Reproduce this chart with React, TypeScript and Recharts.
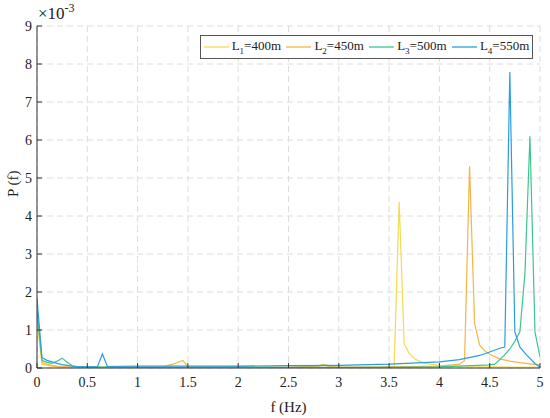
import React from 'react';
import { LineChart, Line, XAxis, YAxis, CartesianGrid, Legend } from 'recharts';

// frequency (Hz) and P(f) (x10^-3) for each cable length
const L1_F = [0, 0.05, 0.1, 0.15, 0.2, 0.3, 0.5, 0.7, 0.75, 0.8, 1.0, 1.5, 2.0, 2.5, 2.75, 2.85, 2.95, 3.0, 3.5, 3.55, 3.6, 3.65, 3.7, 3.75, 3.8, 3.85, 3.9, 4.0, 4.1, 4.2, 4.5, 5.0];
const L1_P = [1.25, 0.1, 0.07, 0.05, 0.03, 0.02, 0.02, 0.02, 0.05, 0.02, 0.02, 0.02, 0.02, 0.02, 0.03, 0.1, 0.03, 0.02, 0.02, 0.03, 4.37, 0.64, 0.38, 0.25, 0.18, 0.13, 0.1, 0.07, 0.05, 0.04, 0.03, 0.02];

const L2_F = [0, 0.05, 0.1, 0.15, 0.2, 0.3, 0.5, 1.0, 1.25, 1.35, 1.45, 1.5, 2.0, 2.5, 2.8, 2.85, 2.9, 3.0, 3.5, 4.0, 4.2, 4.25, 4.3, 4.35, 4.4, 4.45, 4.5, 4.6, 4.7, 4.8, 4.9, 5.0];
const L2_P = [1.4, 0.15, 0.1, 0.07, 0.05, 0.03, 0.02, 0.02, 0.03, 0.1, 0.2, 0.03, 0.02, 0.02, 0.05, 0.08, 0.04, 0.02, 0.03, 0.05, 0.1, 0.2, 5.31, 1.17, 0.6, 0.45, 0.36, 0.24, 0.18, 0.14, 0.11, 0.08];

const L3_F = [0, 0.05, 0.1, 0.15, 0.2, 0.25, 0.3, 0.35, 0.4, 0.5, 1.0, 1.5, 2.0, 2.5, 3.0, 3.5, 4.0, 4.5, 4.55, 4.6, 4.65, 4.7, 4.75, 4.8, 4.85, 4.9, 4.95, 5.0];
const L3_P = [1.5, 0.2, 0.15, 0.12, 0.18, 0.26, 0.15, 0.06, 0.03, 0.03, 0.02, 0.02, 0.03, 0.02, 0.02, 0.02, 0.03, 0.08, 0.1, 0.22, 0.35, 0.5, 0.7, 0.95, 2.48, 6.1, 0.95, 0.29];

const L4_F = [0, 0.05, 0.1, 0.15, 0.2, 0.25, 0.3, 0.35, 0.4, 0.6, 0.65, 0.7, 1.0, 1.5, 2.0, 2.5, 3.0, 3.5, 4.0, 4.2, 4.4, 4.5, 4.6, 4.65, 4.7, 4.75, 4.8, 4.87, 4.95, 5.0];
const L4_P = [1.83, 0.27, 0.2, 0.16, 0.12, 0.09, 0.07, 0.05, 0.04, 0.03, 0.37, 0.04, 0.05, 0.05, 0.05, 0.06, 0.07, 0.1, 0.16, 0.22, 0.33, 0.42, 0.52, 0.55, 7.79, 0.95, 0.55, 0.33, 0.12, 0.02];

const X_TICKS = [0, 0.5, 1, 1.5, 2, 2.5, 3, 3.5, 4, 4.5, 5];
const Y_TICKS = [0, 1, 2, 3, 4, 5, 6, 7, 8, 9];

const SERIES = [
  { name: 'L1', sub: '1', len: '400m', f: L1_F, p: L1_P, color: '#f5da4f' },
  { name: 'L2', sub: '2', len: '450m', f: L2_F, p: L2_P, color: '#f6b445' },
  { name: 'L3', sub: '3', len: '500m', f: L3_F, p: L3_P, color: '#3ec48f' },
  { name: 'L4', sub: '4', len: '550m', f: L4_F, p: L4_P, color: '#2a9de0' },
];

const FONT = '"Liberation Serif", "Times New Roman", serif';
const AXIS = '#333';

const BottomTick = ({ x, y, payload }: any) => (
  <g>
    <line x1={x} x2={x} y1={y} y2={y - 5} stroke={AXIS} />
    <text x={x} y={y + 19} textAnchor="middle" fontFamily={FONT} fontSize={14} fill="#222">
      {payload.value}
    </text>
  </g>
);

const LeftTick = ({ x, y, payload }: any) => (
  <g>
    <line x1={x} x2={x + 5} y1={y} y2={y} stroke={AXIS} />
    <text x={x - 5} y={y + 5} textAnchor="end" fontFamily={FONT} fontSize={14} fill="#222">
      {payload.value}
    </text>
  </g>
);

const TopTick = ({ x, y }: any) => <line x1={x} x2={x} y1={y} y2={y + 5} stroke={AXIS} />;
const RightTick = ({ x, y }: any) => <line x1={x} x2={x - 5} y1={y} y2={y} stroke={AXIS} />;

const LegendBox = () => (
  <div
    style={{
      border: '1px solid #555',
      background: '#fff',
      width: 331,
      height: 22,
      display: 'flex',
      alignItems: 'center',
      justifyContent: 'space-around',
      fontFamily: FONT,
      fontSize: 13,
      color: '#222',
      boxSizing: 'content-box',
    }}
  >
    {SERIES.map((s) => (
      <span key={s.name} style={{ display: 'flex', alignItems: 'center' }}>
        <svg width={25} height={4} style={{ marginRight: 3 }}>
          <line x1={0} x2={25} y1={2} y2={2} stroke={s.color} strokeWidth={1.3} />
        </svg>
        <span>
          L<sub style={{ fontSize: 9 }}>{s.sub}</sub>={s.len}
        </span>
      </span>
    ))}
  </div>
);

export default function App() {
  return (
    <div style={{ position: 'absolute', left: 0, top: 0, width: 550, height: 418, background: '#fff' }}>
      <LineChart width={550} height={418} margin={{ top: 26, right: 10, bottom: 20, left: 7 }}>
        <CartesianGrid stroke="#dcdcdc" strokeDasharray="6 4" />
        <XAxis
          type="number"
          dataKey="f"
          domain={[0, 5]}
          ticks={X_TICKS}
          allowDataOverflow
          stroke={AXIS}
          tickSize={0}
          tickMargin={0}
          tick={<BottomTick />}
          height={30}
          label={{ value: 'f (Hz)', position: 'insideBottom', offset: -14, fontFamily: FONT, fontSize: 15, fill: '#222' }}
        />
        <XAxis
          xAxisId="top"
          orientation="top"
          type="number"
          dataKey="f"
          domain={[0, 5]}
          ticks={X_TICKS}
          stroke={AXIS}
          tickSize={0}
          tickMargin={0}
          tick={<TopTick />}
          height={0}
        />
        <YAxis
          type="number"
          domain={[0, 9]}
          ticks={Y_TICKS}
          allowDataOverflow
          stroke={AXIS}
          tickSize={0}
          tickMargin={0}
          tick={<LeftTick />}
          width={30}
          label={{ value: 'P (f)', angle: -90, position: 'insideLeft', offset: 6, fontFamily: FONT, fontSize: 15, fill: '#222' }}
        />
        <YAxis
          yAxisId="right"
          orientation="right"
          type="number"
          domain={[0, 9]}
          ticks={Y_TICKS}
          stroke={AXIS}
          tickSize={0}
          tickMargin={0}
          tick={<RightTick />}
          width={0}
        />
        {SERIES.map((s) => (
          <Line
            key={s.name}
            name={s.name}
            data={s.f.map((f, i) => ({ f, p: s.p[i] }))}
            dataKey="p"
            type="linear"
            stroke={s.color}
            strokeWidth={1.2}
            dot={false}
            activeDot={false}
            isAnimationActive={false}
          />
        ))}
        <Legend
          layout="horizontal"
          verticalAlign="middle"
          align="center"
          content={<LegendBox />}
          wrapperStyle={{ top: 35, left: 200, width: 333, height: 24 }}
        />
      </LineChart>
      <div style={{ position: 'absolute', left: 38, top: 4, fontFamily: FONT, fontSize: 17, color: '#222' }}>
        ×10<sup style={{ fontSize: 12, verticalAlign: 'top', position: 'relative', top: -3 }}>-3</sup>
      </div>
    </div>
  );
}
